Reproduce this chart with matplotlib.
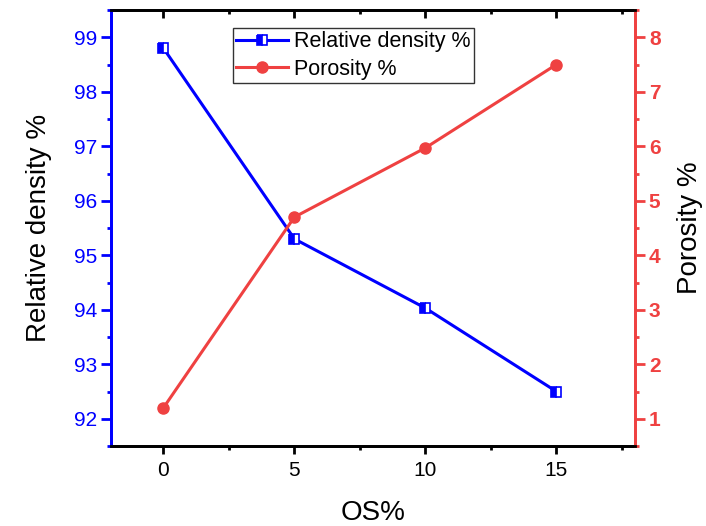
import matplotlib
matplotlib.use("Agg")
import matplotlib.pyplot as plt
from matplotlib.ticker import MultipleLocator, AutoMinorLocator

plt.rcParams['font.family'] = ['Liberation Sans', 'DejaVu Sans']

os_pct = [0, 5, 10, 15]
rel_density = [98.8, 95.3, 94.03, 92.5]
porosity = [1.2, 4.7, 5.97, 7.5]

blue = '#0000FF'
red = '#EF4141'

fig = plt.figure(figsize=(7.06, 5.26), dpi=100)
ax = fig.add_axes([111/706, 1-446/526, (635-111)/706, (446-10)/526])
ax2 = ax.twinx()

l1, = ax.plot(os_pct, rel_density, color=blue, lw=2.2, marker='s', ms=6.5,
              fillstyle='left', markerfacecolor=blue, markerfacecoloralt='white',
              markeredgecolor=blue, markeredgewidth=1.2, label='Relative density %')
l2, = ax2.plot(os_pct, porosity, color=red, lw=2.2, marker='o', ms=8,
               markerfacecolor=red, markeredgecolor=red, label='Porosity %')

ax.set_xlim(-2, 18)
ax.set_ylim(91.5, 99.5)
ax2.set_ylim(0.5, 8.5)

ax.xaxis.set_major_locator(MultipleLocator(5))
ax.xaxis.set_minor_locator(AutoMinorLocator(2))
ax.yaxis.set_major_locator(MultipleLocator(1))
ax.yaxis.set_minor_locator(AutoMinorLocator(2))
ax2.yaxis.set_major_locator(MultipleLocator(1))
ax2.yaxis.set_minor_locator(AutoMinorLocator(2))

for a in (ax, ax2):
    for s in a.spines.values():
        s.set_linewidth(2)
ax2.spines['left'].set_color(blue)
ax2.spines['right'].set_color(red)
ax.spines['left'].set_color(blue)
ax.spines['right'].set_color(red)

ax.tick_params(axis='x', which='both', direction='out', top=False, width=2, color='black',
               labelsize=15, pad=5)
ax.tick_params(axis='x', which='major', length=6)
ax.tick_params(axis='x', which='minor', length=3)
ax.tick_params(axis='y', which='both', direction='out', width=2, color=blue,
               labelcolor=blue, labelsize=15, pad=3)
ax.tick_params(axis='y', which='major', length=7)
ax.tick_params(axis='y', which='minor', length=3)
ax2.tick_params(axis='y', which='both', direction='out', width=2, color=red,
                labelcolor=red, labelsize=15, pad=3)
ax2.tick_params(axis='y', which='major', length=7)
ax2.tick_params(axis='y', which='minor', length=3)
for t in ax2.get_yticklabels():
    t.set_fontweight('bold')

# inward ticks on top spine
sec = ax.secondary_xaxis('top')
sec.xaxis.set_major_locator(MultipleLocator(5))
sec.xaxis.set_minor_locator(AutoMinorLocator(2))
sec.tick_params(axis='x', which='both', direction='in', width=2, color='black', labeltop=False)
sec.tick_params(axis='x', which='major', length=6)
sec.tick_params(axis='x', which='minor', length=3)
sec.spines['top'].set_visible(False)

ax.set_xlabel('OS%', fontsize=20, labelpad=14)
ax.set_ylabel('Relative density %', fontsize=20, labelpad=16)
ax2.set_ylabel('Porosity %', fontsize=20, labelpad=12)

leg = ax.legend(handles=[l1, l2], loc='upper left', bbox_to_anchor=(0.233, 0.959),
                fontsize=15.5, frameon=True, fancybox=False, edgecolor='black',
                borderpad=0.15, labelspacing=0.3, handlelength=2.4, handletextpad=0.3,
                borderaxespad=0)
leg.get_frame().set_linewidth(1)

fig.savefig('out.png', dpi=100)
